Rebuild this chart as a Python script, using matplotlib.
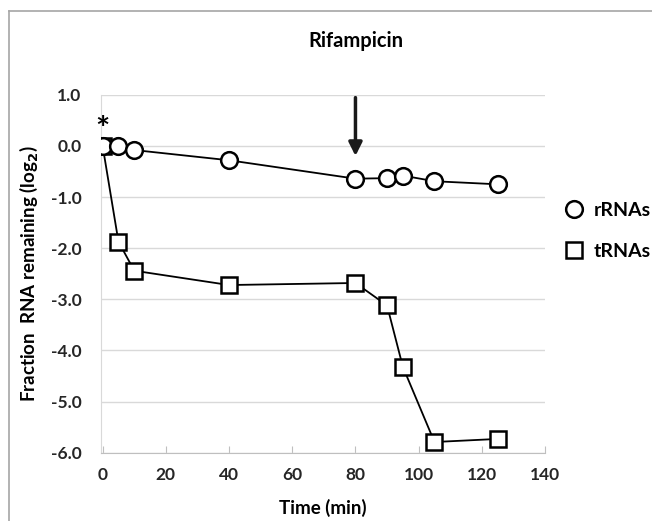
import numpy as np
import matplotlib.pyplot as plt
from matplotlib.lines import Line2D

plt.rcParams['font.family'] = ['Lato', 'DejaVu Sans']
plt.rcParams['font.weight'] = 'bold'

# data
time_min = [0, 5, 10, 40, 80, 90, 95, 105, 125]
rrna = [0.0, 0.0, -0.08, -0.28, -0.64, -0.63, -0.58, -0.69, -0.75]
trna = [0.0, -1.87, -2.44, -2.72, -2.68, -3.12, -4.32, -5.79, -5.73]
y_ticks = [1.0, 0.0, -1.0, -2.0, -3.0, -4.0, -5.0, -6.0]
x_ticks = [0, 20, 40, 60, 80, 100, 120, 140]

fig = plt.figure(figsize=(6.52, 5.21), dpi=100)
ax = fig.add_axes([0.155, 0.131, 0.681, 0.687])

ax.plot(time_min, trna, color='black', lw=1.3, marker='s', ms=11.5,
        mfc='white', mec='black', mew=1.8, zorder=3, label='tRNAs')
ax.plot(time_min, rrna, color='black', lw=1.3, marker='o', ms=12,
        mfc='white', mec='black', mew=1.8, zorder=4, label='rRNAs')

ax.set_xlim(-0.5, 140)
ax.set_ylim(-6.0, 1.0)
ax.set_xticks(x_ticks)
ax.set_yticks(y_ticks)
ax.set_yticklabels([f'{v:.1f}' for v in y_ticks])
ax.grid(axis='y', color='#d9d9d9', lw=1)
ax.set_axisbelow(True)
for s in ['top', 'right']:
    ax.spines[s].set_visible(False)
ax.spines['bottom'].set_color('#bfbfbf')
ax.spines['left'].set_color('#d9d9d9')
ax.tick_params(axis='x', direction='in', length=5, color='#bfbfbf',
               labelsize=12.5, pad=10)
ax.tick_params(axis='y', length=0, labelsize=12.5, pad=14)
for lab in ax.get_xticklabels() + ax.get_yticklabels():
    lab.set_fontweight('bold')
    lab.set_color('#262626')

ax.set_xlabel('Time (min)', fontsize=13.5, fontweight='bold', labelpad=12)
ax.set_ylabel('Fraction  RNA remaining (log$_\\mathbf{2}$)', fontsize=13.5,
              fontweight='bold', labelpad=8)

# rifampicin arrow and asterisk
ax.annotate('', xy=(80, -0.25), xytext=(80, 1.0),
            arrowprops=dict(arrowstyle='-|>', color='#1a1a1a', lw=2.5,
                            mutation_scale=20))
ax.text(80, 2.05, 'Rifampicin', ha='center', va='center', fontsize=14.5,
        fontweight='bold', clip_on=False)
ax.text(0, 0.3, '*', ha='center', va='center', fontsize=24,
        fontweight='bold', clip_on=False)

handles = [Line2D([], [], ls='none', marker='o', ms=12, mfc='white',
                  mec='black', mew=1.8),
           Line2D([], [], ls='none', marker='s', ms=11.5, mfc='white',
                  mec='black', mew=1.8)]
ax.legend(handles, ['rRNAs', 'tRNAs'], loc='center left',
          bbox_to_anchor=(1.0, 0.62), frameon=False, fontsize=14,
          handletextpad=0.4, labelspacing=1.2, handlelength=1.2)

# outer frame of the original figure
fig.add_artist(Line2D([0.014, 0.014], [0.0, 0.979], color='#a6a6a6', lw=1.2))
fig.add_artist(Line2D([0.014, 1.0], [0.979, 0.979], color='#a6a6a6', lw=1.2))

fig.savefig('out.png', dpi=100)
